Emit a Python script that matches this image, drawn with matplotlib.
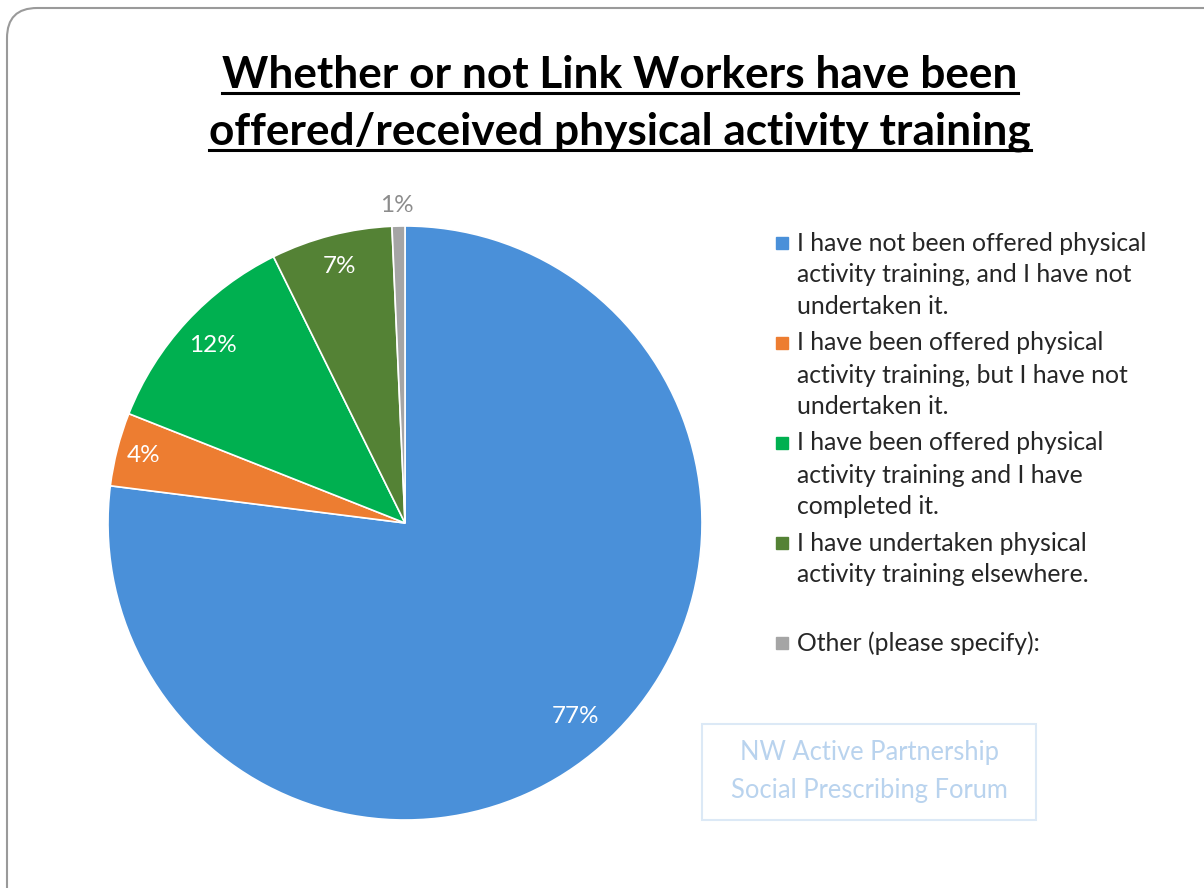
import numpy as np
import matplotlib.pyplot as plt
from matplotlib.patches import FancyBboxPatch, Rectangle
from matplotlib.lines import Line2D

plt.rcParams['font.family'] = ['Lato', 'DejaVu Sans']

# data
categories = [
    "I have not been offered physical\nactivity training, and I have not\nundertaken it.",
    "I have been offered physical\nactivity training, but I have not\nundertaken it.",
    "I have been offered physical\nactivity training and I have\ncompleted it.",
    "I have undertaken physical\nactivity training elsewhere.",
    "Other (please specify):",
]
shares = [77.0, 4.0, 11.7, 6.6, 0.7]
colors = ['#4A90D9', '#ED7D31', '#00B050', '#548235', '#A5A5A5']
title_lines = ["Whether or not Link Workers have been",
               "offered/received physical activity training"]
watermark = ["NW Active Partnership", "Social Prescribing Forum"]

W, H = 1204, 888
fig = plt.figure(figsize=(W / 100, H / 100), dpi=100)


def fx(x):
    return x / W


def fy(y):
    return 1 - y / H


# outer rounded frame (runs off the right and bottom edges)
frame = FancyBboxPatch((fx(7), fy(930)), fx(1300) - fx(7), fy(8) - fy(930),
                       boxstyle="round,pad=0,rounding_size=0.025",
                       mutation_aspect=W / H,
                       transform=fig.transFigure, fill=False,
                       edgecolor='#9a9a9a', linewidth=1.5)
fig.add_artist(frame)

# pie
cx, cy, r = 405, 523, 297
ax = fig.add_axes([fx(cx - r), fy(cy + r), 2 * r / W, 2 * r / H])
wedges, texts, autotexts = ax.pie(
    shares, colors=colors, startangle=90, counterclock=False,
    autopct='%.0f%%', pctdistance=0.88,
    wedgeprops=dict(edgecolor='white', linewidth=1.2),
    textprops=dict(color='white', fontsize=17.5))
ax.set_xlim(-1, 1)
ax.set_ylim(-1, 1)
ax.set_aspect('equal')
ax.axis('off')

# nudge label placement the way Excel's best fit puts them
label_dist = [0.87, 0.91, 0.88, 0.89]
for w, t, d in zip(wedges[:4], autotexts[:4], label_dist):
    ang = np.deg2rad((w.theta1 + w.theta2) / 2)
    t.set_position((d * np.cos(ang), d * np.sin(ang)))
# the tiny slice gets its label outside
autotexts[-1].set_position((-0.027, 1.07))
autotexts[-1].set_color('#8c8c8c')

# title with underline
title_y = [88, 145]
title_texts = []
for line, y in zip(title_lines, title_y):
    t = fig.text(fx(620), fy(y), line, ha='center', va='baseline',
                 fontsize=31.8, fontweight='bold', color='black')
    title_texts.append((t, y))

# legend drawn by hand
for i, (label, col) in enumerate(zip(categories, colors)):
    y0 = 243 + 100 * i
    fig.add_artist(Rectangle((fx(776), fy(y0 + 6)), 12 / W, 12 / H,
                             transform=fig.transFigure, color=col))
    for j, line in enumerate(label.split('\n')):
        fig.text(fx(797), fy(y0 + 32 * j), line, ha='left', va='center',
                 fontsize=17.8, color='#262626')

# watermark box
fig.add_artist(Rectangle((fx(702), fy(820)), (1036 - 702) / W, (820 - 724) / H,
                         transform=fig.transFigure, fill=False,
                         edgecolor='#dce9f6', linewidth=1.5))
for j, line in enumerate(watermark):
    fig.text(fx(869), fy(752 + 38 * j), line, ha='center', va='center',
             fontsize=18.4, color='#b9d3ee')

fig.canvas.draw()
renderer = fig.canvas.get_renderer()
for t, y in title_texts:
    bb = t.get_window_extent(renderer)
    fig.add_artist(Line2D([bb.x0 / W, bb.x1 / W], [fy(y + 5), fy(y + 5)],
                          transform=fig.transFigure, color='black', linewidth=2.2))

fig.savefig('out.png', dpi=100)
